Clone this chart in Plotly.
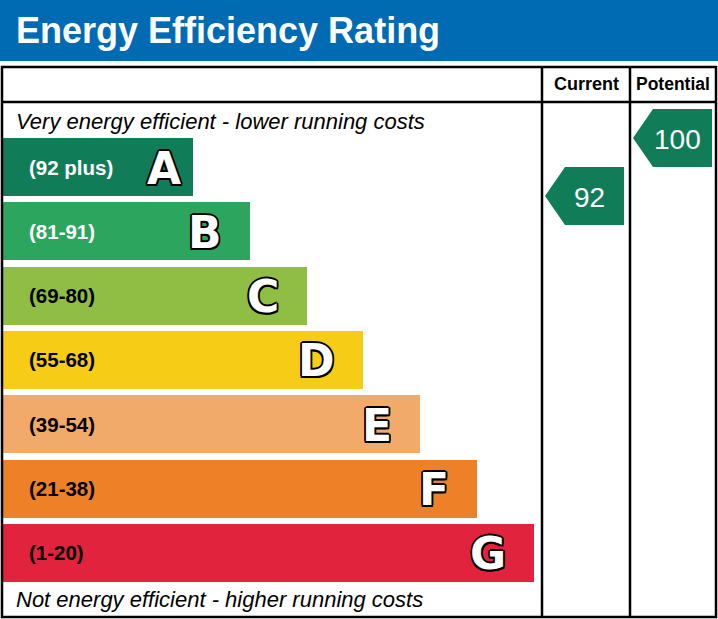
import plotly.graph_objects as go

# EPC bands, top (most efficient) to bottom
band_letters = ["A", "B", "C", "D", "E", "F", "G"]
band_labels = ["(92 plus)", "(81-91)", "(69-80)", "(55-68)", "(39-54)", "(21-38)", "(1-20)"]
band_low = [92, 81, 69, 55, 39, 21, 1]
band_high = [100, 91, 80, 68, 54, 38, 20]

current_score = 92
potential_score = 100

title = "Energy Efficiency Rating"
top_note = "Very energy efficient - lower running costs"
bottom_note = "Not energy efficient - higher running costs"

# styles
band_colors = ["#117d58", "#2ca55e", "#90bd44", "#f6cc17", "#f2aa6b", "#ee8128", "#e2233e"]
label_colors = ["white", "white", "black", "black", "black", "black", "black"]
blue = "#006ab3"
W, H = 718, 619

# layout geometry (pixels)
bar_top = 138
pitch = 64.33
bar_h = 58
bar_x0 = 2
bar_len0 = 191
bar_step = 56.8
col_cur = 542
col_pot = 630
tbl_top = 67
tbl_bot = 617
tbl_left = 2
tbl_right = 716
head_line = 102


def score_to_y(s):
    for i in range(len(band_low)):
        if band_low[i] <= s <= band_high[i]:
            top = bar_top + i * pitch
            return top + (band_high[i] - s) / (band_high[i] - band_low[i]) * bar_h
    return bar_top


centers = [bar_top + i * pitch + bar_h / 2 for i in range(len(band_letters))]
lengths = [bar_len0 + i * bar_step for i in range(len(band_letters))]

fig = go.Figure()
fig.add_trace(go.Bar(
    orientation="h", y=centers, x=lengths, base=bar_x0, width=bar_h,
    marker=dict(color=band_colors, line=dict(width=0)),
    hoverinfo="skip", showlegend=False,
))

outline = ", ".join(f"{dx}px {dy}px 0 #000" for dx, dy in
                    [(-1.5, -1.5), (1.5, -1.5), (-1.5, 1.5), (1.5, 1.5),
                     (0, 1.8), (0, -1.8), (1.8, 0), (-1.8, 0)])

annotations = []
for i, letter in enumerate(band_letters):
    end = bar_x0 + lengths[i]
    annotations.append(dict(
        x=27, y=centers[i], text=band_labels[i], xanchor="left", yanchor="middle",
        showarrow=False,
        font=dict(family="Liberation Sans, Arial", size=20.5, color=label_colors[i], weight="bold"),
    ))
    annotations.append(dict(
        x=max(end - 26, 183), y=centers[i] + 1, text=letter, xanchor="right", yanchor="middle",
        showarrow=False,
        font=dict(family="DejaVu Sans", size=44, color="white", weight="bold", shadow=outline),
    ))


def add_arrow(score, col_left):
    yc = score_to_y(score)
    xl = col_left + 3
    xs = [xl, xl + 20, xl + 79, xl + 79, xl + 20, xl]
    ys = [yc, yc - 29, yc - 29, yc + 29, yc + 29, yc]
    fig.add_trace(go.Scatter(
        x=xs, y=ys, fill="toself", fillcolor=band_colors[0], mode="lines",
        line=dict(width=0, color=band_colors[0]), hoverinfo="skip", showlegend=False,
    ))
    annotations.append(dict(
        x=xl + 44.5, y=yc + 1, text=str(score), xanchor="center", yanchor="middle",
        showarrow=False, font=dict(family="Liberation Sans, Arial", size=28, color="white"),
    ))


add_arrow(current_score, col_cur)
add_arrow(potential_score, col_pot)

annotations += [
    dict(x=14, y=30, text=title, xanchor="left", yanchor="middle", showarrow=False,
         font=dict(family="Liberation Sans, Arial", size=36, color="white", weight="bold")),
    dict(x=(col_cur + col_pot) / 2, y=84, text="Current", xanchor="center", yanchor="middle",
         showarrow=False, font=dict(family="Liberation Sans, Arial", size=18, color="black", weight="bold")),
    dict(x=(col_pot + tbl_right) / 2, y=84, text="Potential", xanchor="center", yanchor="middle",
         showarrow=False, font=dict(family="Liberation Sans, Arial", size=17.5, color="black", weight="bold")),
    dict(x=14, y=121, text=top_note, xanchor="left", yanchor="middle", showarrow=False,
         font=dict(family="Liberation Sans, Arial", size=22, color="black", style="italic")),
    dict(x=14, y=599, text=bottom_note, xanchor="left", yanchor="middle", showarrow=False,
         font=dict(family="Liberation Sans, Arial", size=22, color="black", style="italic")),
]

line = dict(color="black", width=2.5)
shapes = [
    dict(type="rect", xref="x", yref="y", x0=0, x1=W, y0=0, y1=61,
         fillcolor=blue, line=dict(width=0), layer="below"),
    dict(type="rect", xref="x", yref="y", x0=tbl_left, x1=tbl_right, y0=tbl_top, y1=tbl_bot,
         line=line, layer="above"),
    dict(type="line", xref="x", yref="y", x0=tbl_left, x1=tbl_right, y0=head_line, y1=head_line,
         line=line, layer="above"),
    dict(type="line", xref="x", yref="y", x0=col_cur, x1=col_cur, y0=tbl_top, y1=tbl_bot,
         line=line, layer="above"),
    dict(type="line", xref="x", yref="y", x0=col_pot, x1=col_pot, y0=tbl_top, y1=tbl_bot,
         line=line, layer="above"),
]

fig.update_layout(
    width=W, height=H, margin=dict(l=0, r=0, t=0, b=0),
    paper_bgcolor="white", plot_bgcolor="white",
    xaxis=dict(range=[0, W], visible=False, fixedrange=True),
    yaxis=dict(range=[H, 0], visible=False, fixedrange=True),
    annotations=annotations, shapes=shapes, bargap=0,
)

fig.write_html("out.html", config={"displayModeBar": False},
               post_script="document.body.style.margin='0';")
